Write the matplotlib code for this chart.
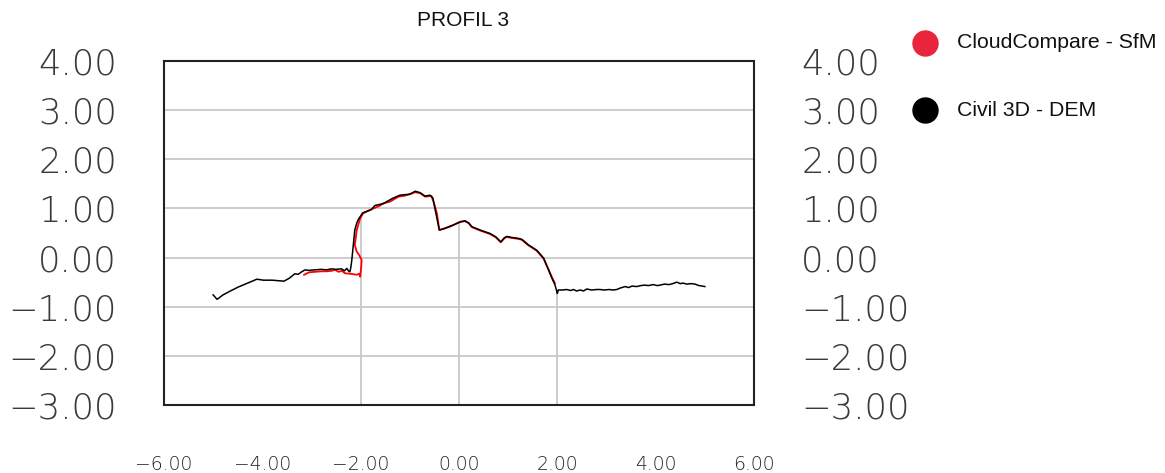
import numpy as np
import matplotlib
matplotlib.use("Agg")
import matplotlib.pyplot as plt
from matplotlib.lines import Line2D

title = "PROFIL 3"
series_names = ["CloudCompare - SfM", "Civil 3D - DEM"]
x_ticks = [-6, -4, -2, 0, 2, 4, 6]
y_ticks = [4, 3, 2, 1, 0, -1, -2, -3]
station_lines = [-2, 0, 2]

# Civil 3D - DEM (black)
dem_x = [-5.00, -4.92, -4.80, -4.65, -4.49, -4.30, -4.11, -3.98, -3.80, -3.56, -3.45, -3.34,
         -3.27, -3.20, -3.13, -3.05, -2.93, -2.80, -2.70, -2.59, -2.50, -2.39, -2.33, -2.28,
         -2.25, -2.22, -2.20, -2.18, -2.15, -2.12, -2.08, -2.05, -1.96, -1.85, -1.78, -1.71,
         -1.62, -1.54, -1.45, -1.34, -1.20, -1.10, -1.00, -0.89, -0.79, -0.69, -0.59, -0.53,
         -0.49, -0.40, -0.30, -0.18, -0.12, 0.02, 0.12, 0.20, 0.26, 0.43, 0.63, 0.75, 0.85,
         0.92, 0.97, 1.07, 1.21, 1.28, 1.41, 1.58, 1.72, 1.82, 1.89, 1.95, 1.99,
         2.00, 2.02, 2.10, 2.19, 2.27, 2.33, 2.39, 2.47, 2.53, 2.60, 2.70, 2.80, 2.87, 2.95,
         3.05, 3.13, 3.21, 3.28, 3.38, 3.45, 3.52, 3.61, 3.70, 3.78, 3.85, 3.95, 4.03, 4.09,
         4.18, 4.27, 4.35, 4.43, 4.50, 4.56, 4.63, 4.72, 4.80, 4.88, 4.95, 5.00]
dem_y = [-0.76, -0.85, -0.76, -0.68, -0.60, -0.52, -0.44, -0.46, -0.46, -0.48, -0.42, -0.33,
         -0.34, -0.29, -0.25, -0.26, -0.25, -0.24, -0.25, -0.23, -0.24, -0.23, -0.27, -0.22,
         -0.27, -0.29, -0.20, -0.05, 0.25, 0.56, 0.70, 0.77, 0.91, 0.95, 0.98, 1.06,
         1.08, 1.10, 1.15, 1.21, 1.27, 1.28, 1.29, 1.35, 1.32, 1.25, 1.27, 1.21,
         1.00, 0.56, 0.59, 0.64, 0.66, 0.72, 0.75, 0.70, 0.63, 0.56, 0.49, 0.42, 0.32,
         0.40, 0.43, 0.41, 0.39, 0.37, 0.26, 0.15, -0.01, -0.25, -0.42, -0.55, -0.69,
         -0.73, -0.66, -0.66, -0.65, -0.67, -0.65, -0.68, -0.66, -0.68, -0.64, -0.66, -0.65,
         -0.65, -0.66, -0.65, -0.66, -0.65, -0.62, -0.59, -0.61, -0.58, -0.59, -0.57, -0.56,
         -0.57, -0.55, -0.57, -0.56, -0.54, -0.55, -0.53, -0.50, -0.53, -0.52, -0.54, -0.53,
         -0.54, -0.57, -0.58, -0.59]

# CloudCompare - SfM (red)
sfm_x = [-3.15, -3.05, -2.93, -2.80, -2.70, -2.59, -2.52, -2.45, -2.38, -2.32, -2.20, -2.08,
         -2.03, -2.01, -1.99, -1.98, -2.03, -2.08, -2.12, -2.10, -2.08, -2.01, -1.95, -1.85,
         -1.74, -1.62, -1.54, -1.40, -1.23, -1.10, -1.00, -0.89, -0.79, -0.69, -0.59, -0.56,
         -0.50, -0.45, -0.40, -0.30, -0.18, -0.12, 0.02, 0.12, 0.20, 0.26, 0.43, 0.63, 0.75,
         0.85, 0.92, 0.97, 1.07, 1.21, 1.28, 1.41, 1.58, 1.72, 1.82, 1.89, 1.95]
sfm_y = [-0.35, -0.30, -0.29, -0.28, -0.28, -0.27, -0.25, -0.29, -0.27, -0.32, -0.33, -0.35,
         -0.33, -0.39, -0.20, -0.05, 0.05, 0.12, 0.26, 0.40, 0.56, 0.80, 0.90, 0.95,
         1.00, 1.05, 1.10, 1.14, 1.24, 1.26, 1.29, 1.33, 1.31, 1.24, 1.25, 1.25,
         1.08, 0.90, 0.56, 0.59, 0.63, 0.66, 0.73, 0.74, 0.70, 0.62, 0.55, 0.48, 0.41,
         0.31, 0.39, 0.42, 0.40, 0.38, 0.36, 0.25, 0.14, -0.02, -0.24, -0.40, -0.52]

fig = plt.figure(figsize=(11.65, 4.73), dpi=100)
ax = fig.add_axes([164 / 1165, 1 - 405 / 473, 590 / 1165, 344 / 473])
ax.set_xlim(-6, 6)
ax.set_ylim(-3, 4)

grid_c = "#c8c8c8"
for yv in y_ticks:
    ax.axhline(yv, color=grid_c, lw=1.3, zorder=1)
for xv in station_lines:
    top = np.interp(xv, dem_x[:73], dem_y[:73])
    ax.vlines(xv, -3, top, color=grid_c, lw=1.3, zorder=1)

ax.plot(sfm_x, sfm_y, color="#ff0000", lw=1.3, zorder=2)
ax.plot(dem_x, dem_y, color="black", lw=1.1, zorder=3)

for s in ax.spines.values():
    s.set_color("#222222")
    s.set_linewidth(1.5)

def fmt(v):
    return ("\u2212" if v < 0 else "") + f"{abs(v):.2f}"

ax.set_xticks(x_ticks)
ax.set_xticklabels([fmt(v) for v in x_ticks], fontsize=13.5, fontweight="light",
                   family="DejaVu Sans", color="#222222")
ax.set_yticks(y_ticks)
ax.set_yticklabels([fmt(v) for v in y_ticks], fontsize=25.5, fontweight=200,
                   family="DejaVu Sans", color="#3a3a3a")
ax.tick_params(axis="x", length=0, pad=36)
ax.tick_params(axis="y", length=0, pad=34, labelright=True, right=False)

fig.text(463 / 1165, 1 - 20 / 473, title, ha="center", va="center",
         fontsize=15, family="Liberation Sans", color="#111111")

legend_cols = ["#e8253a", "black"]
legend_y = [43, 110]
for name, c, yy in zip(series_names, legend_cols, legend_y):
    fig.add_artist(Line2D([925 / 1165], [1 - yy / 473], marker="o", markersize=18,
                          color=c, linestyle="none", transform=fig.transFigure))
    fig.text(957 / 1165, 1 - yy / 473, name, ha="left", va="center",
             fontsize=15.3, family="Liberation Sans", color="#111111")

fig.savefig("out.png", dpi=100)
